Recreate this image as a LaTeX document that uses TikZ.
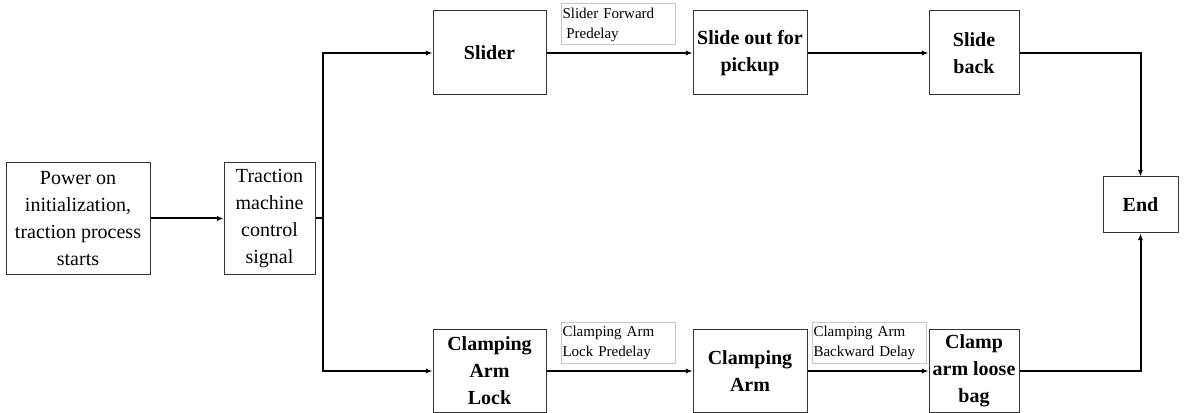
\documentclass[tikz,border=0pt]{standalone}
\usepackage{fontspec}
\setmainfont{Liberation Serif}
\usetikzlibrary{
  arrows.meta,
}
\tikzstyle{block} = [
  draw=black!80,
  line width=0.75pt,
  inner sep=0pt,
  align=center,
  font=\fontsize{15}{20.25}\selectfont,
]
\tikzstyle{stage} = [
  block,
  font=\fontsize{15}{20.25}\selectfont\bfseries,
  minimum height=63pt,
]
\tikzstyle{note} = [
  draw=black!22,
  line width=0.75pt,
  inner sep=1pt,
  align=left,
  text width=84pt,
  minimum height=30.75pt,
  font=\fontsize{11.25}{15}\selectfont,
]
\tikzstyle{arrow} = [
  -{Latex[length=5pt,width=4pt]},
  line width=1.5pt,
]
\tikzstyle{link} = [
  line width=1.5pt,
]

\begin{document}
\begin{tikzpicture}[x=0.75pt, y=-0.75pt]

        \useasboundingbox (0,0) rectangle (1184,413);

        \node [block, minimum width=108pt, minimum height=83.25pt] (power) at (78,218.5)
              {Power on\\initialization,\\traction process\\starts};

        \node [block, minimum width=68.25pt, minimum height=83.25pt] (traction) at (269.5,218.5)
              {Traction\\machine\\control\\signal};

        \node [stage, minimum width=84.75pt] (slider) at (489.5,53) {Slider};

        \node [stage, minimum width=85.5pt] (pickup) at (750,53) {Slide out for\\pickup};

        \node [stage, minimum width=67.5pt] (back) at (974,53) {Slide\\back};

        \node [stage, minimum width=84.75pt, minimum height=62.25pt] (lock) at (489.5,371)
              {Clamping\\Arm\\Lock};

        \node [stage, minimum width=85.5pt, minimum height=62.25pt] (arm) at (750,371)
              {Clamping\\Arm};

        \node [stage, minimum width=67.5pt, minimum height=62.25pt] (loose) at (974,371)
              {Clamp\\arm loose\\bag};

        \node [stage, minimum width=56.25pt, minimum height=42pt] (endnode) at (1140.5,205) {End};

        \node [note] (fwd) at (618.5,24.5) {Slider Forward\\\hspace*{0.25em}Predelay};

        \node [note] (lockdelay) at (618.5,342.5) {Clamping Arm\\Lock Predelay};

        \node [note] (backdelay) at (869.5,342.5) {Clamping Arm\\Backward Delay};

        \coordinate (split) at (323,218.5);

        \draw [arrow] (power) -- (traction);

        \draw [link] (traction) -- (split);

        \draw [arrow] (split) |- (slider);

        \draw [arrow] (split) |- (lock);

        \draw [arrow] (slider) -- (pickup);

        \draw [arrow] (pickup) -- (back);

        \draw [arrow] (back) -| (endnode);

        \draw [arrow] (lock) -- (arm);

        \draw [arrow] (arm) -- (loose);

        \draw [arrow] (loose) -| (endnode);
      \end{tikzpicture}
\end{document}
